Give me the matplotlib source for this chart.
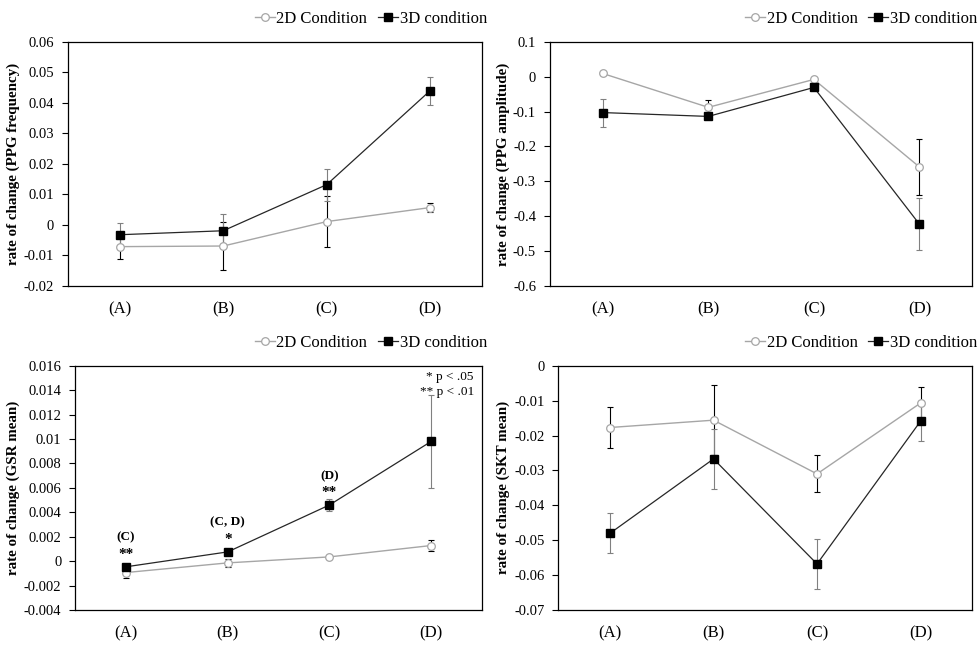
import matplotlib
matplotlib.use("Agg")
import matplotlib.pyplot as plt
from matplotlib.ticker import MultipleLocator, FuncFormatter

plt.rcParams.update({
    "font.family": ["Liberation Serif", "DejaVu Serif"],
    "axes.unicode_minus": False,
    "axes.linewidth": 0.9,
    "axes.edgecolor": "black",
})

categories = ["(A)", "(B)", "(C)", "(D)"]

# PPG frequency
ppg_freq_2d = [-0.0071, -0.0069, 0.0011, 0.0057]
ppg_freq_2d_err = [0.0040, 0.0078, 0.0084, 0.0015]
ppg_freq_3d = [-0.0032, -0.0019, 0.0132, 0.0440]
ppg_freq_3d_err = [0.0040, 0.0055, 0.0052, 0.0046]

# PPG amplitude
ppg_amp_2d = [0.009, -0.088, -0.008, -0.259]
ppg_amp_2d_err = [0.005, 0.022, 0.005, 0.079]
ppg_amp_3d = [-0.103, -0.114, -0.031, -0.423]
ppg_amp_3d_err = [0.040, 0.008, 0.005, 0.074]

# GSR mean
gsr_2d = [-0.00093, -0.00014, 0.00035, 0.00128]
gsr_2d_err = [0.00043, 0.00033, 0.0001, 0.00042]
gsr_3d = [-0.00046, 0.00076, 0.0046, 0.0098]
gsr_3d_err = [0.0002, 0.0002, 0.0005, 0.0038]
gsr_sig_labels = ["(C)", "(C, D)", "(D)"]
gsr_sig_stars = ["**", "*", "**"]

# SKT mean
skt_2d = [-0.0177, -0.0156, -0.0310, -0.0107]
skt_2d_err = [0.0060, 0.0100, 0.0053, 0.0045]
skt_3d = [-0.0480, -0.0267, -0.0568, -0.0159]
skt_3d_err = [0.0058, 0.0086, 0.0071, 0.0058]

GRAY = "#a6a6a6"
ERR_GRAY = "#808080"


def fmt(v, pos):
    v = round(v, 6)
    if v == 0:
        return "0"
    return f"{v:g}"


def panel(ax, y2, e2, y3, e3, ylim, step, ylabel, label_x):
    x = range(len(categories))
    ax.errorbar(x, y2, yerr=e2, fmt="none", ecolor="black", elinewidth=0.8,
                capsize=2.5, capthick=0.8, zorder=2)
    ax.errorbar(x, y3, yerr=e3, fmt="none", ecolor=ERR_GRAY, elinewidth=0.8,
                capsize=2.5, capthick=0.8, zorder=2)
    ax.plot(x, y2, color=GRAY, lw=1.0, marker="o", ms=5.5, mfc="white",
            mec=GRAY, mew=0.9, label="2D Condition", zorder=3)
    ax.plot(x, y3, color="#262626", lw=0.9, marker="s", ms=6, mfc="black",
            mec="black", label="3D condition", zorder=4)
    ax.set_xlim(-0.5, len(categories) - 0.5)
    ax.set_xticks(list(x))
    ax.set_xticklabels(categories, fontsize=12)
    ax.tick_params(axis="x", length=0, pad=11)
    ax.set_ylim(*ylim)
    ax.yaxis.set_major_locator(MultipleLocator(step))
    ax.yaxis.set_major_formatter(FuncFormatter(fmt))
    ax.tick_params(axis="y", direction="out", length=4, width=0.8,
                   labelsize=10.5, pad=6)
    ax.set_ylabel(ylabel, fontsize=10.8, fontweight="bold")
    ax.yaxis.set_label_coords(label_x, 0.5)
    ax.legend(loc="center right", bbox_to_anchor=(1.012, 1.095), ncol=2,
              frameon=False, fontsize=12, handlelength=1.2, handletextpad=0.1,
              columnspacing=0.65, borderpad=0, borderaxespad=0)


fig = plt.figure(figsize=(9.8, 6.48), dpi=100)
ax1 = fig.add_axes([0.0694, 0.5586, 0.4224, 0.3770])
ax2 = fig.add_axes([0.5612, 0.5586, 0.4309, 0.3770])
ax3 = fig.add_axes([0.0768, 0.0586, 0.4150, 0.3770])
ax4 = fig.add_axes([0.5697, 0.0586, 0.4224, 0.3770])

panel(ax1, ppg_freq_2d, ppg_freq_2d_err, ppg_freq_3d, ppg_freq_3d_err,
      (-0.02, 0.06), 0.01, "rate of change (PPG frequency)", -0.116)
panel(ax2, ppg_amp_2d, ppg_amp_2d_err, ppg_amp_3d, ppg_amp_3d_err,
      (-0.6, 0.1), 0.1, "rate of change (PPG amplitude)", -0.095)
panel(ax3, gsr_2d, gsr_2d_err, gsr_3d, gsr_3d_err,
      (-0.004, 0.016), 0.002, "rate of change (GSR mean)", -0.136)
panel(ax4, skt_2d, skt_2d_err, skt_3d, skt_3d_err,
      (-0.07, 0.0), 0.01, "rate of change (SKT mean)", -0.117)

# significance marks on the GSR panel
for i, (lab, star) in enumerate(zip(gsr_sig_labels, gsr_sig_stars)):
    ax3.annotate(star, (i, gsr_3d[i]), xytext=(0, 9), textcoords="offset points",
                 ha="center", va="center", fontsize=11, fontweight="bold")
    ax3.annotate(lab, (i, gsr_3d[i]), xytext=(0, 21), textcoords="offset points",
                 ha="center", va="center", fontsize=9.5, fontweight="bold")

ax3.text(0.98, 0.952, "* p < .05", transform=ax3.transAxes, ha="right",
         va="center", fontsize=9.5)
ax3.text(0.98, 0.891, "** p < .01", transform=ax3.transAxes, ha="right",
         va="center", fontsize=9.5)

plt.savefig("out.png", dpi=100)
